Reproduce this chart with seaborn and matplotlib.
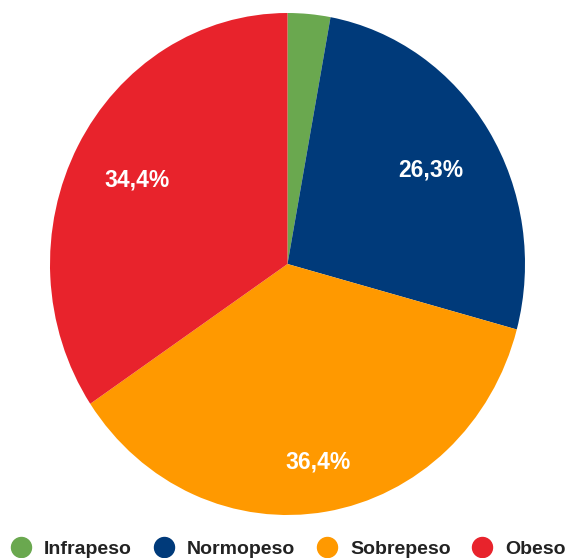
import matplotlib
matplotlib.use("Agg")
import numpy as np
import matplotlib.pyplot as plt
import seaborn as sns
from matplotlib.lines import Line2D

sns.set_theme(style="white")
plt.rcParams["font.family"] = ["Liberation Sans", "DejaVu Sans"]

# data
categories = ["Infrapeso", "Normopeso", "Sobrepeso", "Obeso"]
values = [2.9, 26.3, 36.4, 34.4]
colors = sns.color_palette(["#6aa84f", "#003a7a", "#ff9900", "#e8232c"])

# how far out each percentage label sits (fraction of radius)
label_dist = [0.715, 0.715, 0.795, 0.72]


def fmt_pct(p):
    # small slices get no label, comma as decimal separator
    if p < 5:
        return ""
    return f"{p:.1f}%".replace(".", ",")


fig = plt.figure(figsize=(5.69, 5.58), dpi=100)
ax = fig.add_axes([50 / 569, 43 / 558, 475 / 569, 502 / 558])

wedges, texts, autotexts = ax.pie(
    values,
    colors=colors,
    startangle=90,
    counterclock=False,
    autopct=fmt_pct,
    pctdistance=0.715,
    radius=1,
    wedgeprops={"linewidth": 0},
    textprops={"color": "white", "fontsize": 16.5, "fontweight": "bold"},
)
for w, t, d in zip(wedges, autotexts, label_dist):
    mid = np.deg2rad((w.theta1 + w.theta2) / 2)
    t.set_position((d * np.cos(mid), d * np.sin(mid) - 0.005))
ax.set_xlim(-1, 1)
ax.set_ylim(-1, 1)
ax.set_aspect("auto")

handles = [
    Line2D([0], [0], marker="o", linestyle="", markersize=14.4,
           markerfacecolor=c, markeredgecolor=c)
    for c in colors
]
leg = fig.legend(
    handles, categories,
    loc="lower center",
    bbox_to_anchor=(0.507, 0.0),
    borderaxespad=0.0,
    borderpad=0.02,
    ncol=4,
    frameon=False,
    handletextpad=0.7,
    columnspacing=1.12,
    handlelength=1.0,
    prop={"weight": "bold", "size": 14},
)
for t in leg.get_texts():
    t.set_color("#222222")

fig.savefig("out.png", dpi=100)
